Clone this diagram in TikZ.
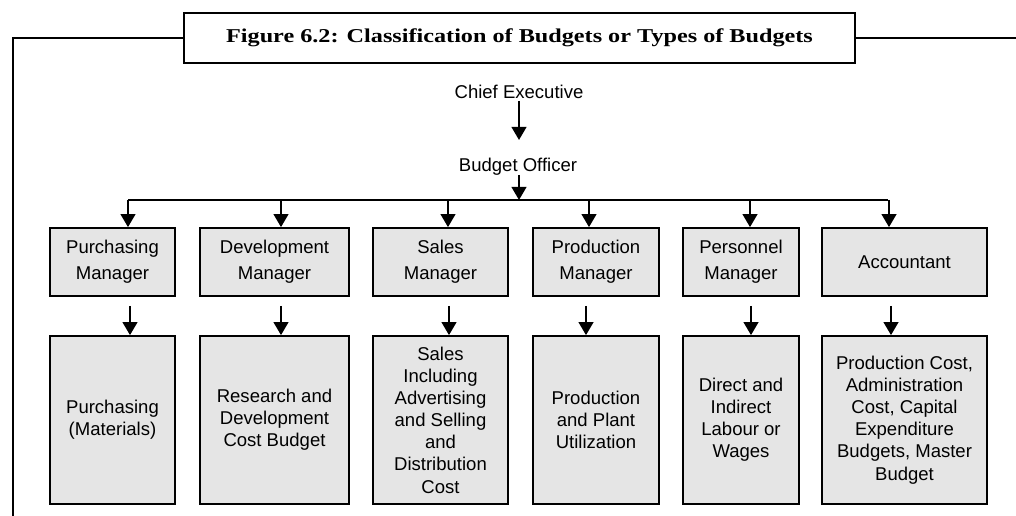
\documentclass[tikz,border=0pt]{standalone}
\usepackage{fontspec}
\newfontfamily\arial{Liberation Sans}
\newfontfamily\titleserif{Liberation Serif}
\usetikzlibrary{arrows.meta}
\definecolor{boxgray}{RGB}{229,229,229}
\begin{document}
\begin{tikzpicture}[x=0.75pt,y=-0.75pt,
  frame/.style={line width=1pt},
  titlebox/.style={draw,line width=1.2pt,fill=white,minimum width=503.25pt,minimum height=37.5pt,inner sep=0pt},
  plain/.style={font=\arial\fontsize{13.9}{16.5}\selectfont,inner sep=1pt},
  mgr/.style={draw,line width=1.3pt,fill=boxgray,minimum height=51pt,inner sep=0pt,align=center,font=\arial\fontsize{13.9}{19.5}\selectfont},
  bud/.style={draw,line width=1.3pt,fill=boxgray,minimum height=126pt,inner sep=0pt,align=center,font=\arial\fontsize{13.9}{16.6}\selectfont},
  arr/.style={line width=1.5pt,-{Triangle[width=11pt,length=9.75pt]}},
  bus/.style={line width=0.8pt}]
\useasboundingbox (0,0) rectangle (1016,516);
% title and frame
\node[titlebox] (title) at (519.5,38) {\resizebox{440pt}{\height}{\titleserif\fontsize{14.7}{17}\selectfont\bfseries Figure 6.2: Classification of Budgets or Types of Budgets}};
\coordinate (fl) at (13,38);
\coordinate (fb) at (13,516);
\coordinate (fr) at (1016,38);
\draw[frame] (title.west) -- (fl) -- (fb);
\draw[frame] (title.east) -- (fr);
% top of hierarchy
\node[plain] (ce) at (519,92) {Chief Executive};
\node[plain] (bo) at (518,167) {Budget Officer};
\coordinate (ceA) at (519,101);
\coordinate (ceB) at (519,140);
\draw[arr] (ceA) -- (ceB);
\coordinate (boA) at (519,175);
\coordinate (boB) at (519,200);
\draw[arr] (boA) -- (boB);
\coordinate (busL) at (128,200);
\coordinate (busR) at (888,200);
\draw[bus] (busL) -- (busR);
% managers
\node[mgr,minimum width=93.75pt] (m1) at (112.5,262) {Purchasing\\Manager};
\node[mgr,minimum width=111.75pt] (m2) at (274.5,262) {Development\\Manager};
\node[mgr,minimum width=101.25pt] (m3) at (440.5,262) {Sales\\Manager};
\node[mgr,minimum width=94.5pt] (m4) at (596,262) {Production\\Manager};
\node[mgr,minimum width=87pt] (m5) at (741,262) {Personnel\\Manager};
\node[mgr,minimum width=123.75pt] (m6) at (904.5,262) {Accountant};
% budgets
\node[bud,minimum width=93.75pt] (b1) at (112.5,420) {Purchasing\\(Materials)};
\node[bud,minimum width=111.75pt] (b2) at (274.5,420) {Research and\\Development\\Cost Budget};
\node[bud,minimum width=101.25pt] (b3) at (440.5,420) {Sales\\Including\\Advertising\\and Selling\\and\\Distribution\\Cost};
\node[bud,minimum width=94.5pt] (b4) at (596,420) {Production\\and Plant\\Utilization};
\node[bud,minimum width=87pt] (b5) at (741,420) {Direct and\\Indirect\\Labour or\\Wages};
\node[bud,minimum width=123.75pt] (b6) at (904.5,420) {Production Cost,\\Administration\\Cost, Capital\\Expenditure\\Budgets, Master\\Budget};
% bus drops
\coordinate (d1) at (128,200);
\coordinate (d2) at (281,200);
\coordinate (d3) at (448,200);
\coordinate (d4) at (589,200);
\coordinate (d5) at (750,200);
\coordinate (d6) at (889,200);
\foreach \i in {1,...,6}{\draw[arr] (d\i) -- (d\i |- m\i.north);}
% manager to budget arrows
\coordinate (u1) at (130,306);
\coordinate (u2) at (281,306);
\coordinate (u3) at (449,306);
\coordinate (u4) at (586,306);
\coordinate (u5) at (751,306);
\coordinate (u6) at (891,306);
\foreach \i in {1,...,6}{\draw[arr] (u\i) -- (u\i |- b\i.north);}
\end{tikzpicture}
\end{document}
